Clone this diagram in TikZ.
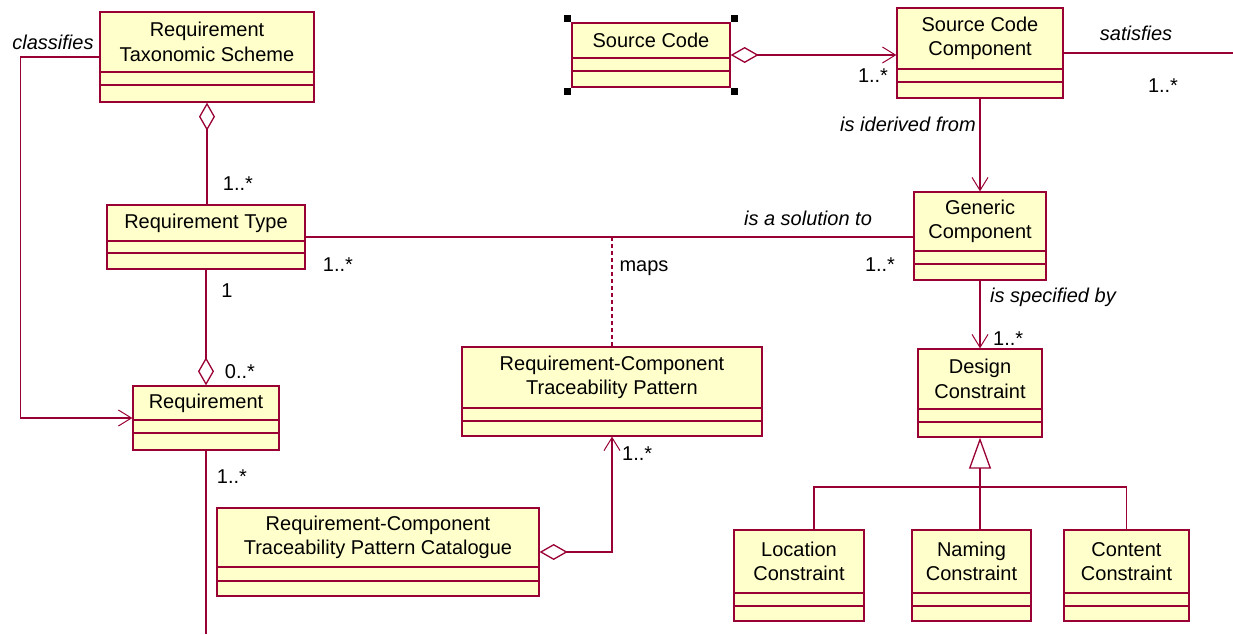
\documentclass[tikz,border=0pt]{standalone}
\usepackage{fontspec}
\setmainfont{Liberation Sans}
\usetikzlibrary{arrows.meta}

\definecolor{umlred}{HTML}{990033}
\definecolor{umlfill}{HTML}{FFFFCC}

\tikzset{
  classbox/.style={draw=umlred, fill=umlfill, line width=1.3pt, inner sep=0pt},
  classname/.style={font=\fontsize{20}{24.5}\selectfont, align=center, inner sep=0pt},
  umlline/.style={draw=umlred, line width=1.3pt},
  assoclabel/.style={font=\fontsize{20}{24}\selectfont\itshape, inner sep=0pt},
  multlabel/.style={font=\fontsize{20}{24}\selectfont, inner sep=0pt},
  handle/.style={fill=black, minimum size=7pt, inner sep=0pt},
  aggr/.tip={Diamond[open,length=28pt,width=16pt]},
  barb/.tip={Straight Barb[length=13pt,width=16pt,line width=1pt]},
  genarrow/.tip={Triangle[open,length=31pt,width=22pt]},
}

% name, left, top, right, bottom, first line, second line, title
\newcommand{\umlclass}[8]{%
  \node[classbox, minimum width={#4-#2}, minimum height={#5-#3}] (#1) at ({(#2+#4)/2},{(#3+#5)/2}) {};
  \draw[umlline] (#2,#6) -- (#4,#6) (#2,#7) -- (#4,#7);
  \node[classname] (#1-name) at ({(#2+#4)/2},{(#3+#6)/2}) {#8};
}

\begin{document}
\begin{tikzpicture}[x=1pt, y=-1pt]
  \useasboundingbox (0,0) rectangle (1233,634);

  % classes
  \umlclass{rts}{100}{12}{314}{102}{72}{85}{Requirement\\Taxonomic Scheme}
  \umlclass{rt}{107}{205}{305}{269}{241}{253}{Requirement Type}
  \umlclass{req}{133}{386}{279}{450}{420}{433}{Requirement}
  \umlclass{sc}{572}{23}{730}{87}{58}{71}{Source Code}
  \umlclass{scc}{897}{8}{1063}{98}{69}{82}{Source Code\\Component}
  \umlclass{gc}{914}{192}{1046}{280}{251}{264}{Generic\\Component}
  \umlclass{rctp}{462}{347}{762}{436}{408}{421}{Requirement-Component\\Traceability Pattern}
  \umlclass{dc}{918}{349}{1042}{437}{409}{422}{Design\\Constraint}
  \umlclass{cat}{217}{508}{539}{596}{567}{581}{Requirement-Component\\Traceability Pattern Catalogue}
  \umlclass{loc}{734}{530}{864}{621}{593}{606}{Location\\Constraint}
  \umlclass{nam}{912}{530}{1031}{621}{593}{606}{Naming\\Constraint}
  \umlclass{con}{1064}{530}{1189}{621}{593}{606}{Content\\Constraint}

  % selection handles
  \foreach \c/\dx/\dy in {north west/-4/4, north east/4/4, south west/-4/-4, south east/4/-4}
    \node[handle] at ([shift={(\dx pt,\dy pt)}]sc.\c) {};

  % left side
  \draw[umlline, -barb] (rts.west) -- ++(-79,0) |- (req.west);
  \node[assoclabel] (classifies) at (53,42) {classifies};
  \draw[umlline, aggr-] (rts.south) -- (rts.south |- rt.north);
  \node[multlabel] (m-rt-top) at (238,184) {1..*};
  \draw[umlline, -aggr] (rt.south) -- (rt.south |- req.north);
  \node[multlabel] (m-rt-one) at (227,291) {1};
  \node[multlabel] (m-req-top) at (240,372) {0..*};
  \coordinate (reqend) at (req.south |- 0,634);
  \draw[umlline] (req.south) -- (reqend);
  \node[multlabel] (m-req-bot) at (232,477) {1..*};

  % solution and mapping
  \draw[umlline] (rt.east) -- (rt.east -| gc.west);
  \node[assoclabel] (solution) at (808,218) {is a solution to};
  \node[multlabel] (m-rt-right) at (338,265) {1..*};
  \node[multlabel] (m-gc-left) at (880,265) {1..*};
  \coordinate (mapsjoin) at (rt.east -| rctp.north);
  \draw[umlline, dash pattern=on 4pt off 3pt] (mapsjoin) -- (rctp.north);
  \node[multlabel] (maps) at (644,268) {maps};

  % source code
  \draw[umlline, aggr-barb] (sc.east) -- (sc.east -| scc.west);
  \node[multlabel] (m-scc-left) at (873,76) {1..*};
  \coordinate (satend) at (scc.east -| 1233,0);
  \draw[umlline] (scc.east) -- (satend);
  \node[assoclabel] (satisfies) at (1136,33) {satisfies};
  \node[multlabel] (m-sat) at (1163,86) {1..*};
  \draw[umlline, -barb] (scc.south) -- (scc.south |- gc.north);
  \node[assoclabel, anchor=east] (derived) at (976,124) {is iderived from};

  % design constraints
  \draw[umlline, -barb] (gc.south) -- (gc.south |- dc.north);
  \node[assoclabel, anchor=west] (specified) at (990,297) {is specified by};
  \node[multlabel, anchor=west] (m-dc-top) at (993,339) {1..*};
  \coordinate (genbar) at (dc.south |- 0,487);
  \draw[umlline, -genarrow] (genbar) -- (dc.south);
  \draw[umlline] ([xshift=15pt]loc.north) |- (genbar) -| (con.north);
  \draw[umlline] (genbar) -- (genbar |- nam.north);

  % catalogue
  \draw[umlline, aggr-barb] (cat.east) -| (rctp.south);
  \node[multlabel, anchor=west] (m-rctp-bot) at (622,454) {1..*};
\end{tikzpicture}
\end{document}
